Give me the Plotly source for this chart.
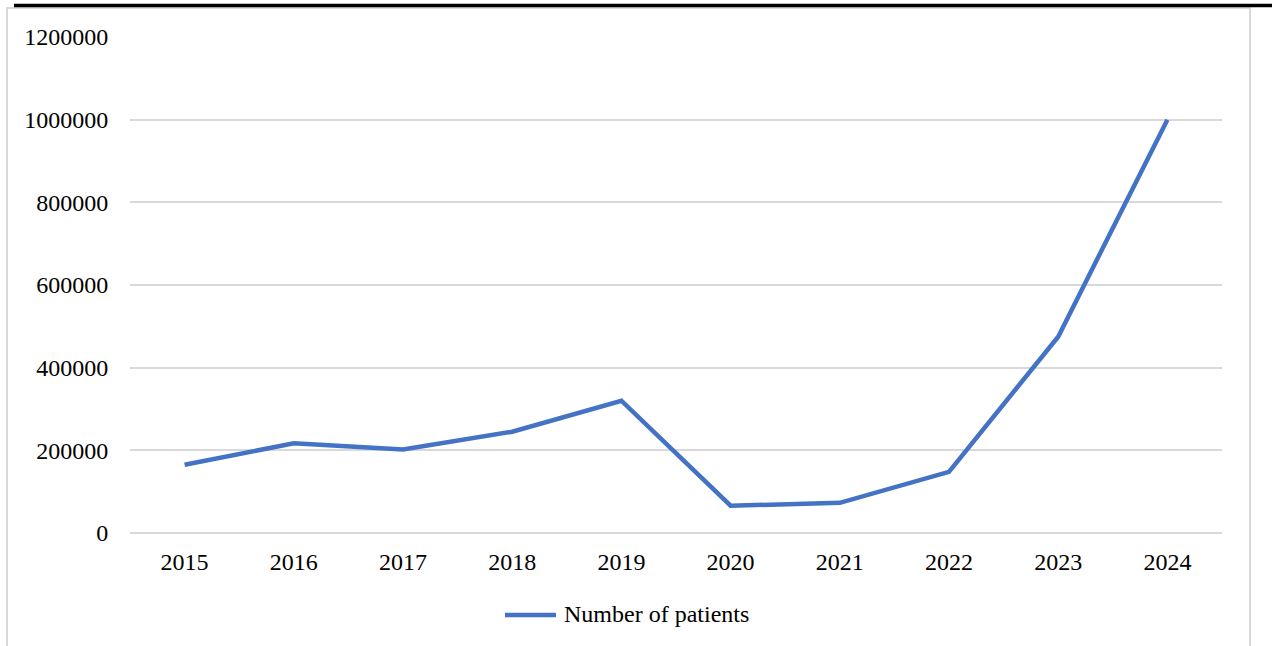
import plotly.graph_objects as go

years = ["2015", "2016", "2017", "2018", "2019", "2020", "2021", "2022", "2023", "2024"]
patients = [165000, 217000, 202000, 245000, 320000, 66000, 73000, 148000, 475000, 1000000]
y_ticks = [0, 200000, 400000, 600000, 800000, 1000000, 1200000]
series_name = "Number of patients"
line_color = "#4472C4"

L, R, T, B = 130, 50, 37, 113
W, H = 1272, 646
pw, ph = W - L - R, H - T - B

def px(X):
    return (X - L) / pw

def py(Y):
    return (H - B - Y) / ph

fig = go.Figure()
fig.add_trace(go.Scatter(
    x=years, y=patients, mode="lines", name=series_name,
    line=dict(color=line_color, width=4.5), showlegend=False,
))

font = dict(family="Liberation Serif, Times New Roman, serif", size=24, color="#000000")

fig.update_layout(
    width=W, height=H,
    margin=dict(l=L, r=R, t=T, b=B),
    paper_bgcolor="white", plot_bgcolor="white",
    font=font,
    showlegend=False,
    xaxis=dict(type="category", range=[-0.5, 9.5], showgrid=False, showline=False,
               ticks="outside", ticklen=7, tickcolor="rgba(0,0,0,0)", tickfont=font),
    yaxis=dict(range=[0, 1200000], tickvals=y_ticks, ticktext=[str(v) for v in y_ticks],
               showgrid=True, gridcolor="#d9d9d9", gridwidth=1.5,
               zeroline=True, zerolinecolor="#d9d9d9", zerolinewidth=1.5,
               showline=False, ticks="outside", ticklen=16, tickcolor="rgba(0,0,0,0)",
               tickfont=font),
    shapes=[
        dict(type="rect", xref="paper", yref="paper", x0=px(7), x1=px(1250), y0=py(700), y1=py(8),
             line=dict(color="#d9d9d9", width=2), fillcolor="rgba(0,0,0,0)", layer="below"),
        dict(type="line", xref="paper", yref="paper", x0=px(14), x1=px(1272), y0=py(5.5), y1=py(5.5),
             line=dict(color="#000000", width=3.5)),
        dict(type="line", xref="paper", yref="paper", x0=px(505), x1=px(556), y0=py(615), y1=py(615),
             line=dict(color=line_color, width=4.5)),
    ],
    annotations=[
        dict(text=series_name, xref="paper", yref="paper", x=px(562), y=py(614),
             xanchor="left", yanchor="middle", showarrow=False, font=font),
    ],
)

fig.write_html("out.html")
